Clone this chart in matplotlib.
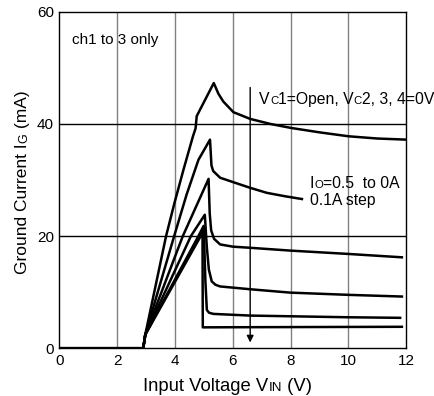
import matplotlib
matplotlib.use("Agg")
import matplotlib.pyplot as plt
from matplotlib.transforms import IdentityTransform

plt.rcParams['font.family'] = ['Liberation Sans', 'DejaVu Sans']

# ground current vs input voltage, Io = 0.5A .. 0A (0.1A step)
x_05 = [0, 2.9, 2.97, 3.69, 3.98, 4.29, 4.62, 4.71, 4.75, 5.34, 5.5, 5.67, 6.02, 6.6,
        7.3, 8.0, 9.0, 10.0, 11.0, 12.0]
y_05 = [0, 0, 2.4, 20, 25.9, 31.8, 37.8, 39.2, 41.4, 47.3, 45.4, 44.0, 42.1, 40.9,
        40.0, 39.3, 38.5, 37.8, 37.4, 37.2]

x_04 = [2.9, 2.97, 3.97, 4.4, 4.81, 5.21, 5.26, 5.32, 5.56, 6.02, 6.6, 7.18, 7.8, 8.39]
y_04 = [0, 2.4, 20, 27.4, 33.6, 37.2, 32.6, 31.6, 30.4, 29.6, 28.6, 27.7, 27.1, 26.6]

x_03 = [2.9, 2.97, 4.27, 5.16, 5.2, 5.25, 5.35, 5.56, 6.0, 6.6, 7.98, 10.0, 11.85]
y_03 = [0, 2.4, 20, 30.2, 24, 21, 19.5, 18.5, 18.1, 17.9, 17.4, 16.8, 16.2]

x_02 = [2.9, 2.97, 4.55, 5.03, 5.1, 5.17, 5.27, 5.4, 5.56, 6.6, 7.98, 10.0, 11.85]
y_02 = [0, 2.4, 20, 23.8, 18, 14, 11.9, 11.3, 11.0, 10.5, 9.9, 9.5, 9.2]

x_01 = [2.9, 2.97, 4.81, 4.99, 5.05, 5.1, 5.18, 5.33, 6.6, 10.0, 11.79]
y_01 = [0, 2.4, 20, 21.8, 12, 6.8, 6.3, 6.1, 5.8, 5.5, 5.4]

x_00 = [2.9, 2.97, 4.89, 4.95, 4.96, 6.0, 11.85]
y_00 = [0, 2.4, 20, 21.0, 3.7, 3.72, 3.8]

curves = [(x_05, y_05), (x_04, y_04), (x_03, y_03), (x_02, y_02), (x_01, y_01), (x_00, y_00)]

xticks = [0, 2, 4, 6, 8, 10, 12]
yticks = [0, 20, 40, 60]

fig = plt.figure(figsize=(4.34, 3.96), dpi=100)
ax = fig.add_axes([0.137, 0.121, 0.799, 0.849])

for xv in xticks[1:-1]:
    ax.axvline(xv, color='#808080', lw=1.0, zorder=1)
for yv in yticks[1:-1]:
    ax.axhline(yv, color='black', lw=1.0, zorder=1)

for xs, ys in curves:
    ax.plot(xs, ys, color='black', lw=1.8, solid_joinstyle='round', zorder=3)

# arrow showing decreasing load
ax.annotate('', xy=(6.6, 1.0), xytext=(6.6, 46.5),
            arrowprops=dict(arrowstyle='-|>', color='black', lw=1.0,
                            mutation_scale=10, shrinkA=0, shrinkB=0), zorder=4)

ax.set_xlim(0, 12)
ax.set_ylim(0, 60)
ax.set_xticks(xticks)
ax.set_yticks(yticks)
ax.tick_params(length=0, labelsize=11, pad=4)
for s in ax.spines.values():
    s.set_linewidth(1.0)

ax.text(0.42, 55, 'ch1 to 3 only', fontsize=11, va='center', ha='left')

fig.canvas.draw()
renderer = fig.canvas.get_renderer()


def rich(x, y, parts, transform, rotation=0, center=False):
    # draw text pieces of different sizes one after another
    px, py = transform.transform((x, y))
    if center:
        total = 0
        for s, size in parts:
            t = fig.text(0, 0, s, fontsize=size, rotation=rotation)
            bb = t.get_window_extent(renderer)
            total += bb.height if rotation else bb.width
            t.remove()
        if rotation:
            py -= total / 2
        else:
            px -= total / 2
    for s, size in parts:
        t = fig.text(px, py, s, fontsize=size, rotation=rotation, transform=IdentityTransform(),
                     ha='left', va='baseline', rotation_mode='anchor')
        bb = t.get_window_extent(renderer)
        if rotation:
            py += bb.height
        else:
            px += bb.width


big = 11.3
small = 8.2
rich(6.92, 43.6, [('V', big), ('C', small), ('1=Open, V', big), ('C', small), ('2, 3, 4=0V', big)],
     ax.transData)
rich(8.66, 28.6, [('I', big), ('O', small), ('=0.5  to 0A', big)], ax.transData)
rich(8.66, 25.5, [('0.1A step', big)], ax.transData)

rich(0.525, 0.012, [('Input Voltage V', 13.3), ('IN', 9.6), (' (V)', 13.3)], fig.transFigure,
     center=True)
rich(0.062, 0.54, [('Ground Current I', 12.5), ('G', 9), (' (mA)', 12.5)], fig.transFigure,
     rotation=90, center=True)

fig.savefig('out.png', dpi=100)
